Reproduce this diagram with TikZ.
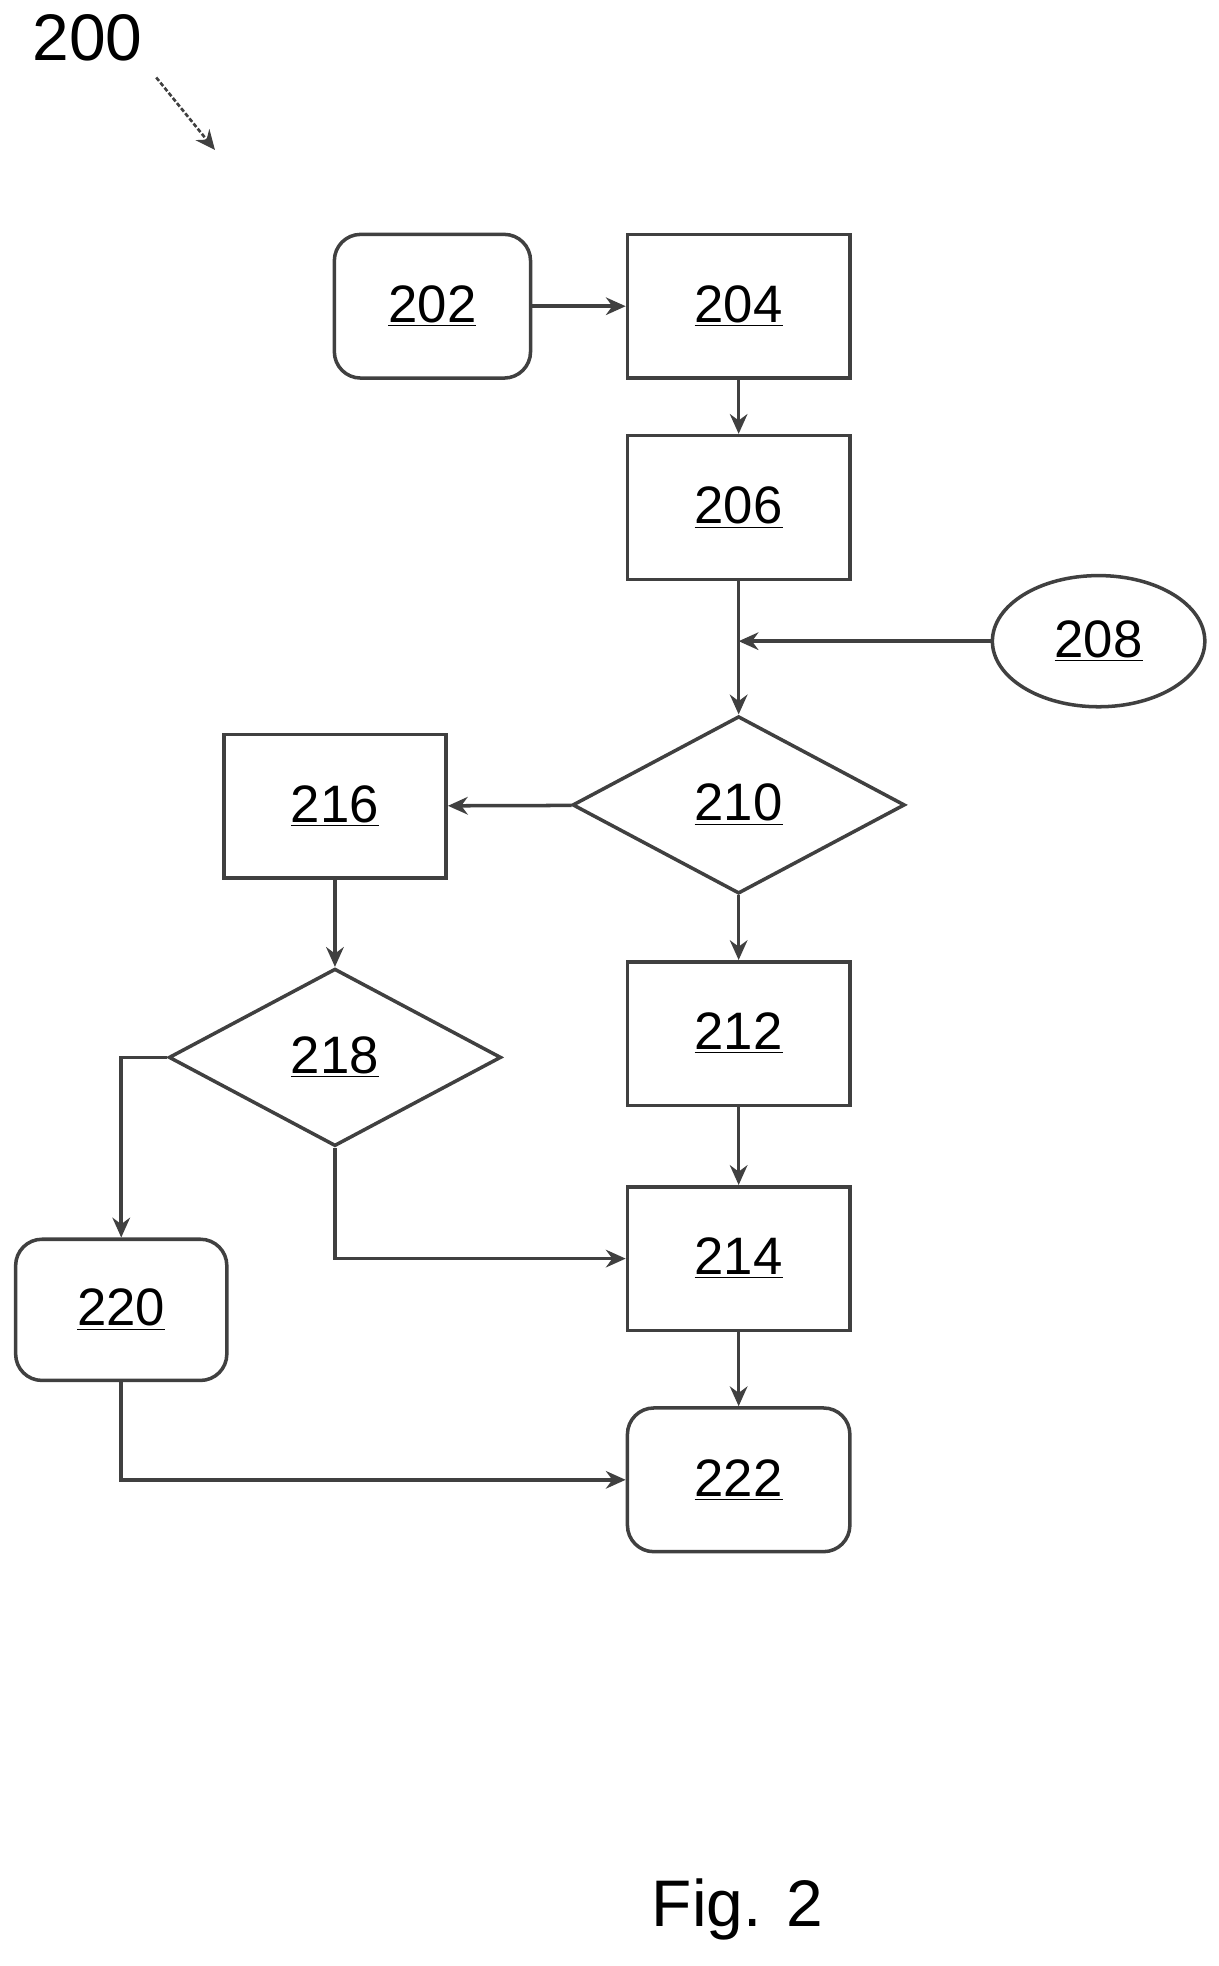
\documentclass[tikz,border=0pt]{standalone}
\usepackage{fontspec}
\setmainfont{Liberation Sans}
\usetikzlibrary{shapes.geometric,arrows.meta}
\tikzset{
  line/.style={draw=black!75, line width=1.6pt},
  box/.style={line, rectangle, minimum width=3.56cm, minimum height=2.3cm, font=\fontsize{24}{28}\selectfont},
  rbox/.style={box, rounded corners=12pt},
  dec/.style={line, diamond, aspect=1.87, inner sep=0pt, minimum width=5.32cm, minimum height=2.84cm, font=\fontsize{24}{28}\selectfont},
  arr/.style={line, -{Stealth[length=9pt,width=8pt]}}
}
\newcommand{\ul}[1]{\underline{#1}}
\begin{document}
\begin{tikzpicture}[x=0.02cm,y=-0.02cm]
\useasboundingbox (0,0) rectangle (975,1573);
% process nodes
\node[rbox, minimum width=3.14cm] (n202) at (346,245) {\ul{202}};
\node[box] (n204) at (591,245) {\ul{204}};
\node[box] (n206) at (591,406) {\ul{206}};
\node[line, ellipse, minimum width=3.4cm, minimum height=2.1cm, font=\fontsize{24}{28}\selectfont] (n208) at (879,513) {\ul{208}};
\node[dec] (n210) at (591,644) {\ul{210}};
\node[box] (n216) at (268,645) {\ul{216}};
\node[dec] (n218) at (268,846) {\ul{218}};
\node[box] (n212) at (591,827) {\ul{212}};
\node[box] (n214) at (591,1007) {\ul{214}};
\node[rbox, minimum width=3.38cm, minimum height=2.26cm] (n220) at (97,1048) {\ul{220}};
\node[rbox] (n222) at (591,1184) {\ul{222}};
\coordinate (join) at (591,513);
% labels
\node[font=\fontsize{30}{34}\selectfont] (ref) at (70,30) {200};
\coordinate (refend) at (172,120);
\node[font=\fontsize{30}{34}\selectfont] (fig) at (590,1528) {Fig. 2};
% connectors
\draw[arr, line width=1.2pt, dash pattern=on 2pt off 1pt] (125,62) -- (refend);
\draw[arr] (n202) -- (n204);
\draw[arr] (n204) -- (n206);
\draw[arr] (n206) -- (n210);
\draw[arr] (n208) -- (join);
\draw[arr] (n210) -- (n216);
\draw[arr] (n210) -- (n212);
\draw[arr] (n216) -- (n218);
\draw[arr] (n218.west) -| (n220.north);
\draw[arr] (n218.south) |- (n214.west);
\draw[arr] (n212) -- (n214);
\draw[arr] (n214) -- (n222);
\draw[arr] (n220.south) |- (n222.west);
\end{tikzpicture}
\end{document}
